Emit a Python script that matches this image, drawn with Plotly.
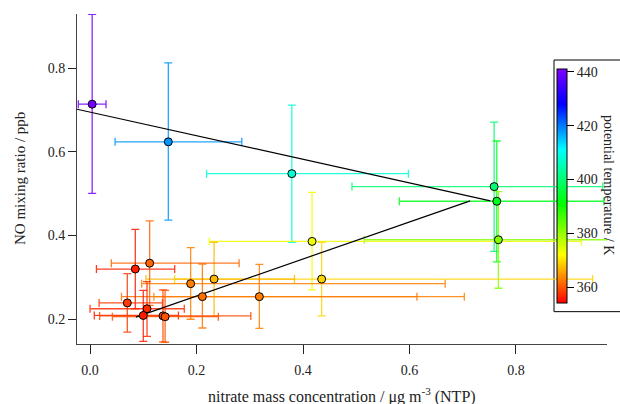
import plotly.graph_objects as go
from plotly.colors import sample_colorscale

# ---- data ----
nitrate = [0.004, 0.147, 0.379, 0.759, 0.764, 0.767, 0.417, 0.435, 0.233, 0.189,
           0.211, 0.318, 0.112, 0.085, 0.070, 0.107, 0.100, 0.137, 0.141]
no_ppb = [0.714, 0.624, 0.548, 0.517, 0.482, 0.390, 0.386, 0.296, 0.296, 0.285,
          0.254, 0.254, 0.334, 0.320, 0.239, 0.225, 0.209, 0.208, 0.206]
theta = [440, 418, 408, 400, 393, 381, 373, 369, 367, 363,
         362, 363, 361, 356, 358, 357, 356, 359, 360]
x_err_minus = [0.026, 0.100, 0.160, 0.267, 0.183, 0.252, 0.193, 0.276, 0.128, 0.092,
               0.152, 0.198, 0.072, 0.073, 0.053, 0.107, 0.092, 0.119, 0.099]
x_err_plus = [0.026, 0.138, 0.219, 0.204, 0.201, 0.253, 0.506, 0.509, 0.151, 0.478,
              0.403, 0.385, 0.168, 0.074, 0.066, 0.070, 0.066, 0.165, 0.100]
y_err_minus = [0.213, 0.187, 0.164, 0.155, 0.145, 0.116, 0.116, 0.088, 0.089, 0.085,
               0.075, 0.076, 0.101, 0.095, 0.070, 0.066, 0.062, 0.062, 0.061]
y_err_plus = [0.215, 0.189, 0.164, 0.154, 0.144, 0.115, 0.117, 0.088, 0.088, 0.086,
              0.078, 0.077, 0.101, 0.095, 0.070, 0.065, 0.060, 0.062, 0.063]
# black guide lines
line1_x = [-0.0245, 0.752]
line1_y = [0.702, 0.483]
line2_x = [0.086, 0.714]
line2_y = [0.205, 0.483]

t_min, t_max = 354, 441
cb_ticks = [360, 380, 400, 420, 440]

def tpos(t):
    return (t - t_min) / (t_max - t_min)

rainbow = [
    [0.0, "rgb(255,0,0)"],
    [tpos(363), "rgb(255,128,0)"],
    [tpos(372), "rgb(255,255,0)"],
    [tpos(391), "rgb(0,255,0)"],
    [tpos(411), "rgb(0,255,255)"],
    [tpos(428), "rgb(0,0,255)"],
    [1.0, "rgb(128,0,255)"],
]

FONT = "Liberation Serif"
TXT = "#222"
fig = go.Figure()

pt_colors = sample_colorscale(rainbow, [tpos(t) for t in theta])
for i in range(len(nitrate)):
    fig.add_trace(go.Scatter(
        x=[nitrate[i]], y=[no_ppb[i]], mode="markers",
        marker=dict(size=1, color="rgba(0,0,0,0)"),
        error_x=dict(type="data", symmetric=False, array=[x_err_plus[i]],
                     arrayminus=[x_err_minus[i]], color=pt_colors[i],
                     thickness=1.3, width=4),
        error_y=dict(type="data", symmetric=False, array=[y_err_plus[i]],
                     arrayminus=[y_err_minus[i]], color=pt_colors[i],
                     thickness=1.3, width=4),
        opacity=0.85, showlegend=False, hoverinfo="skip"))

for lx, ly in [(line1_x, line1_y), (line2_x, line2_y)]:
    fig.add_trace(go.Scatter(x=lx, y=ly, mode="lines",
                             line=dict(color="black", width=1.2),
                             showlegend=False, hoverinfo="skip"))

fig.add_trace(go.Scatter(
    x=nitrate, y=no_ppb, mode="markers", showlegend=False,
    marker=dict(size=8, color=theta, colorscale=rainbow, cmin=t_min, cmax=t_max,
                line=dict(color="black", width=1),
                showscale=True,
                colorbar=dict(x=0.9, xanchor="left", xpad=3, y=0.478, yanchor="middle",
                              lenmode="pixels", len=234, ypad=0, thickness=10,
                              outlinecolor="black", outlinewidth=1,
                              borderwidth=0, bgcolor="rgba(0,0,0,0)",
                              tickvals=cb_ticks, ticks="outside", ticklen=7,
                              tickcolor="black",
                              tickfont=dict(family=FONT, size=14, color=TXT)))))

fig.add_shape(type="rect", xref="paper", yref="paper", x0=0.9, x1=1.06,
              y0=0.098, y1=0.8606, line=dict(color="black", width=1),
              fillcolor="white", layer="below")

fig.add_annotation(text="potential temperature / K", xref="paper", yref="paper",
                   x=(609 - 77) / 530, y=(344 - 185) / 330, textangle=90, showarrow=False,
                   xanchor="center", yanchor="middle",
                   font=dict(family=FONT, size=14, color=TXT))
fig.add_annotation(text="NO mixing ratio / ppb", xref="paper", yref="paper",
                   x=(20 - 77) / 530, y=(344 - 179) / 330, textangle=-90, showarrow=False,
                   xanchor="center", yanchor="middle",
                   font=dict(family=FONT, size=15, color=TXT))
fig.add_annotation(text="nitrate mass concentration / μg m<sup>-3</sup> (NTP)",
                   xref="paper", yref="paper", x=(342 - 77) / 530, y=(344 - 395) / 330,
                   showarrow=False, xanchor="center", yanchor="middle",
                   font=dict(family=FONT, size=16, color=TXT))

axis_common = dict(showline=True, linecolor="#444", linewidth=1, showgrid=False,
                   zeroline=False, ticks="outside", tickcolor="#222", mirror=False,
                   tickfont=dict(family=FONT, size=14, color=TXT))
fig.update_xaxes(range=[-0.0245, 0.971], tickvals=[0.0, 0.2, 0.4, 0.6, 0.8],
                 tickformat=".1f", ticklen=9, ticklabelstandoff=4, **axis_common)
fig.update_yaxes(range=[0.1408, 0.9296], tickvals=[0.2, 0.4, 0.6, 0.8],
                 tickformat=".1f", ticklen=8, **axis_common)

fig.update_layout(width=620, height=404, margin=dict(l=77, r=13, t=14, b=60),
                  plot_bgcolor="white", paper_bgcolor="white")
fig.write_html("out.html")
